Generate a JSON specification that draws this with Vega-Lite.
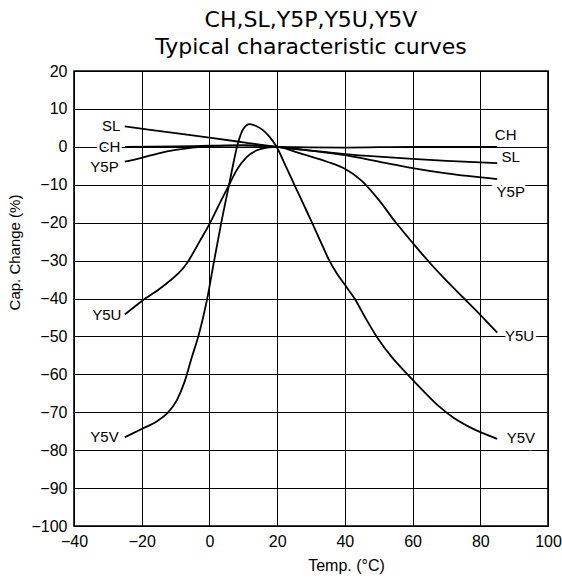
{
  "$schema": "https://vega.github.io/schema/vega-lite/v6.json",
  "width": 474,
  "height": 455,
  "autosize": {"type": "none"},
  "padding": {"left": 74, "top": 71, "right": 14, "bottom": 53},
  "background": "white",
  "config": {
    "font": "Liberation Sans",
    "view": {"stroke": "black", "strokeWidth": 1.6},
    "axis": {
      "grid": true, "gridColor": "black", "gridOpacity": 1, "gridWidth": 1,
      "domain": false, "ticks": false, "tickSize": 0,
      "labelFont": "Liberation Sans", "labelFontSize": 16, "labelColor": "black",
      "titleFont": "Liberation Sans", "titleFontSize": 15, "titleFontWeight": "normal", "titleColor": "black",
      "labelOverlap": false, "labelFlush": false
    }
  },
  "title": {
    "text": ["CH,SL,Y5P,Y5U,Y5V", "Typical characteristic curves"],
    "font": "DejaVu Sans", "fontSize": 22, "fontWeight": "normal", "color": "black",
    "lineHeight": 27, "anchor": "middle", "frame": "group", "offset": 4
  },
  "datasets": {
    "curves": [
      {"s": "CH", "T": -25, "C": 0}, {"s": "CH", "T": -10, "C": 0.1}, {"s": "CH", "T": 0, "C": 0.3}, {"s": "CH", "T": 10, "C": 0.4}, {"s": "CH", "T": 20, "C": 0}, {"s": "CH", "T": 40, "C": -0.2}, {"s": "CH", "T": 60, "C": 0}, {"s": "CH", "T": 85, "C": 0},
      {"s": "SL", "T": -25, "C": 5.4}, {"s": "SL", "T": -10, "C": 3.6}, {"s": "SL", "T": 0, "C": 2.4}, {"s": "SL", "T": 10, "C": 1.2}, {"s": "SL", "T": 20, "C": 0}, {"s": "SL", "T": 30, "C": -1.0}, {"s": "SL", "T": 40, "C": -1.9}, {"s": "SL", "T": 50, "C": -2.6}, {"s": "SL", "T": 60, "C": -3.2}, {"s": "SL", "T": 70, "C": -3.7}, {"s": "SL", "T": 85, "C": -4.3},
      {"s": "Y5P", "T": -25, "C": -3.9}, {"s": "Y5P", "T": -20, "C": -2.9}, {"s": "Y5P", "T": -15, "C": -1.7}, {"s": "Y5P", "T": -10, "C": -0.8}, {"s": "Y5P", "T": -5, "C": -0.2}, {"s": "Y5P", "T": 0, "C": 0.2}, {"s": "Y5P", "T": 10, "C": 0.4}, {"s": "Y5P", "T": 20, "C": 0}, {"s": "Y5P", "T": 30, "C": -1.0}, {"s": "Y5P", "T": 40, "C": -2.2}, {"s": "Y5P", "T": 50, "C": -3.9}, {"s": "Y5P", "T": 60, "C": -5.6}, {"s": "Y5P", "T": 70, "C": -7.0}, {"s": "Y5P", "T": 85, "C": -8.5},
      {"s": "Y5U", "T": -25, "C": -44.2}, {"s": "Y5U", "T": -20, "C": -40.7}, {"s": "Y5U", "T": -13.6, "C": -36.7}, {"s": "Y5U", "T": -6.8, "C": -30.9}, {"s": "Y5U", "T": -2.8, "C": -24.8}, {"s": "Y5U", "T": 0, "C": -20.4}, {"s": "Y5U", "T": 3, "C": -15}, {"s": "Y5U", "T": 6, "C": -9.7}, {"s": "Y5U", "T": 8, "C": -6.2}, {"s": "Y5U", "T": 11, "C": -2.7}, {"s": "Y5U", "T": 14, "C": -0.9}, {"s": "Y5U", "T": 17, "C": -0.2}, {"s": "Y5U", "T": 20, "C": 0}, {"s": "Y5U", "T": 25, "C": -1.2}, {"s": "Y5U", "T": 30, "C": -2.6}, {"s": "Y5U", "T": 35, "C": -4.0}, {"s": "Y5U", "T": 40, "C": -5.8}, {"s": "Y5U", "T": 45, "C": -9.0}, {"s": "Y5U", "T": 50, "C": -14.0}, {"s": "Y5U", "T": 55, "C": -19.9}, {"s": "Y5U", "T": 60, "C": -25.3}, {"s": "Y5U", "T": 65, "C": -30.5}, {"s": "Y5U", "T": 70, "C": -35.3}, {"s": "Y5U", "T": 75, "C": -39.8}, {"s": "Y5U", "T": 80, "C": -44.3}, {"s": "Y5U", "T": 85, "C": -49},
      {"s": "Y5V", "T": -25, "C": -76.6}, {"s": "Y5V", "T": -20, "C": -74.4}, {"s": "Y5V", "T": -15.5, "C": -72.4}, {"s": "Y5V", "T": -12.5, "C": -70.3}, {"s": "Y5V", "T": -9.6, "C": -66.8}, {"s": "Y5V", "T": -7.2, "C": -61.6}, {"s": "Y5V", "T": -5.2, "C": -55.5}, {"s": "Y5V", "T": -3.1, "C": -49.4}, {"s": "Y5V", "T": -0.8, "C": -40.7}, {"s": "Y5V", "T": 1.4, "C": -30}, {"s": "Y5V", "T": 3.5, "C": -20}, {"s": "Y5V", "T": 5.8, "C": -10}, {"s": "Y5V", "T": 8.4, "C": 0.9}, {"s": "Y5V", "T": 9.9, "C": 4.6}, {"s": "Y5V", "T": 11.9, "C": 6.0}, {"s": "Y5V", "T": 13.8, "C": 5.5}, {"s": "Y5V", "T": 15.8, "C": 4.4}, {"s": "Y5V", "T": 17.7, "C": 2.7}, {"s": "Y5V", "T": 19.7, "C": 0.2},
      {"s": "Y5V", "T": 22.5, "C": -5}, {"s": "Y5V", "T": 25.2, "C": -10.2}, {"s": "Y5V", "T": 27.7, "C": -15}, {"s": "Y5V", "T": 30.3, "C": -20}, {"s": "Y5V", "T": 33, "C": -25.3}, {"s": "Y5V", "T": 35.2, "C": -29.6}, {"s": "Y5V", "T": 37.5, "C": -33.2}, {"s": "Y5V", "T": 40, "C": -36.4}, {"s": "Y5V", "T": 43, "C": -40.2}, {"s": "Y5V", "T": 46, "C": -45}, {"s": "Y5V", "T": 49.5, "C": -50.2}, {"s": "Y5V", "T": 54, "C": -55.6}, {"s": "Y5V", "T": 58.5, "C": -60}, {"s": "Y5V", "T": 63, "C": -64.2}, {"s": "Y5V", "T": 68, "C": -68.6}, {"s": "Y5V", "T": 72, "C": -71.4}, {"s": "Y5V", "T": 77, "C": -74}, {"s": "Y5V", "T": 85, "C": -77}
    ],
    "labels": [
      {"label": "SL", "side": "left", "T": -26.3, "C": 5.6},
      {"label": "CH", "side": "left", "T": -26.3, "C": 0},
      {"label": "Y5P", "side": "left", "T": -26.8, "C": -5.2},
      {"label": "Y5U", "side": "left", "T": -26, "C": -44.3},
      {"label": "Y5V", "side": "left", "T": -26.8, "C": -76.4},
      {"label": "CH", "side": "right", "T": 84.3, "C": 3.2},
      {"label": "SL", "side": "right", "T": 86.3, "C": -2.7},
      {"label": "Y5P", "side": "right", "T": 84.8, "C": -11.8},
      {"label": "Y5U", "side": "right", "T": 87.3, "C": -50},
      {"label": "Y5V", "side": "right", "T": 87.8, "C": -76.8}
    ]
  },
  "encoding": {
    "x": {"field": "T", "type": "quantitative", "scale": {"domain": [-40, 100], "nice": false, "zero": false},
      "axis": {"values": [-40, -20, 0, 20, 40, 60, 80, 100], "title": "Temp. (°C)", "titleFontSize": 16, "labelPadding": 7, "titleX": 272, "titleY": 44, "titleBaseline": "alphabetic"}},
    "y": {"field": "C", "type": "quantitative", "scale": {"domain": [-100, 20], "nice": false, "zero": false},
      "axis": {"values": [-100, -90, -80, -70, -60, -50, -40, -30, -20, -10, 0, 10, 20], "title": "Cap. Change (%)", "labelPadding": 7, "titleX": -55, "titleY": 181, "titleBaseline": "alphabetic", "titleAngle": 270}}
  },
  "layer": [
    {"data": {"name": "labels"}, "transform": [{"filter": "datum.side === 'left'"}],
      "mark": {"type": "text", "align": "right", "baseline": "middle", "fontSize": 15, "font": "Liberation Sans", "fill": "white", "stroke": "white", "strokeWidth": 5},
      "encoding": {"text": {"field": "label"}}},
    {"data": {"name": "labels"}, "transform": [{"filter": "datum.side === 'right'"}],
      "mark": {"type": "text", "align": "left", "baseline": "middle", "fontSize": 15, "font": "Liberation Sans", "fill": "white", "stroke": "white", "strokeWidth": 6},
      "encoding": {"text": {"field": "label"}}},
    {"data": {"name": "curves"},
      "mark": {"type": "line", "color": "black", "strokeWidth": 1.8, "interpolate": "monotone"},
      "encoding": {"detail": {"field": "s"}}},
    {"data": {"name": "labels"}, "transform": [{"filter": "datum.side === 'left'"}],
      "mark": {"type": "text", "align": "right", "baseline": "middle", "fontSize": 15, "font": "Liberation Sans", "color": "black"},
      "encoding": {"text": {"field": "label"}}},
    {"data": {"name": "labels"}, "transform": [{"filter": "datum.side === 'right'"}],
      "mark": {"type": "text", "align": "left", "baseline": "middle", "fontSize": 15, "font": "Liberation Sans", "color": "black"},
      "encoding": {"text": {"field": "label"}}}
  ]
}
